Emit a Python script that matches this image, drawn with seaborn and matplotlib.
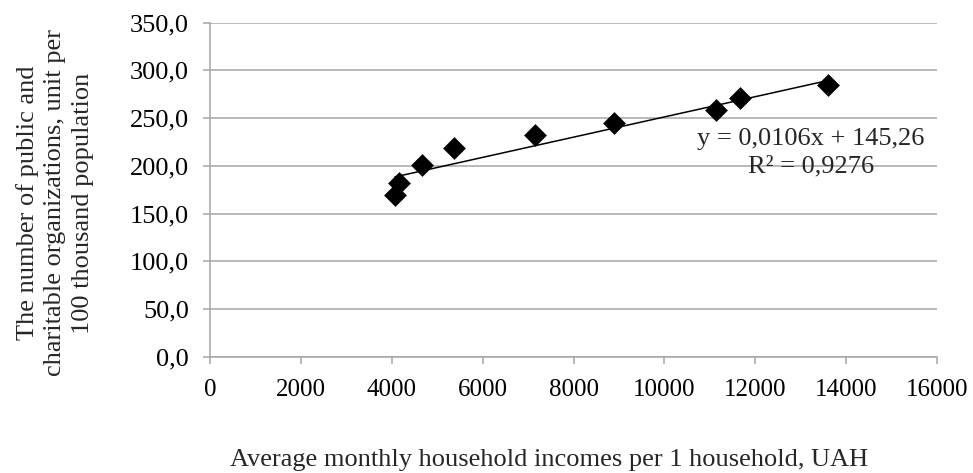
import matplotlib
matplotlib.use("Agg")
import matplotlib.pyplot as plt
from matplotlib.ticker import FuncFormatter, MultipleLocator
import numpy as np
import pandas as pd
import seaborn as sns

# Household income vs. number of public and charitable organizations
income = [4070, 4150, 4670, 5360, 7145, 8890, 11135, 11665, 13600]
organizations = [169.5, 181.5, 201.0, 218.5, 232.5, 244.5, 258.5, 271.0, 284.5]

# Linear trend reported on the chart
slope = 0.0106
intercept = 145.26
r_squared = 0.9276

x_label = "Average monthly household incomes per 1 household, UAH"
y_label = "The number of public and\ncharitable organizations, unit per\n100 thousand population"

sns.set_theme(style="white")
plt.rcParams["font.family"] = ["Liberation Serif", "DejaVu Serif"]

df = pd.DataFrame({"income": income, "orgs": organizations})

fig = plt.figure(figsize=(9.73, 4.73), dpi=100)
ax = fig.add_axes([210 / 973, 1 - 356.7 / 473, 727 / 973, 334 / 473])

grid_color = "#a6a6a6"
ax.set_xlim(0, 16000)
ax.set_ylim(0, 350)
ax.xaxis.set_major_locator(MultipleLocator(2000))
ax.yaxis.set_major_locator(MultipleLocator(50))
ax.yaxis.set_major_formatter(FuncFormatter(lambda v, p: f"{v:.1f}".replace(".", ",")))
ax.xaxis.set_major_formatter(FuncFormatter(lambda v, p: f"{int(v)}"))
ax.grid(axis="y", color=grid_color, linewidth=1.1)
ax.set_axisbelow(True)

for side in ("top", "right"):
    ax.spines[side].set_visible(False)
for side in ("left", "bottom"):
    ax.spines[side].set_color(grid_color)
    ax.spines[side].set_linewidth(1.1)
ax.tick_params(axis="both", which="major", direction="out", length=5, width=1.1,
               color=grid_color, labelcolor="black", bottom=True, left=True)
ax.tick_params(axis="y", labelsize=19, pad=10)
ax.tick_params(axis="x", labelsize=18, pad=11)

# Trend line across the observed income range
trend_x = np.array([min(income), max(income)])
trend_df = pd.DataFrame({"income": trend_x, "orgs": slope * trend_x + intercept})
sns.lineplot(data=trend_df, x="income", y="orgs", ax=ax, color="black", linewidth=1.1)

sns.scatterplot(data=df, x="income", y="orgs", ax=ax, marker="D", s=135,
                color="black", edgecolor="black", linewidth=0, zorder=3)

eq_text = (f"y = {slope:.4f}x + {intercept:.2f}".replace(".", ",")
           + "\n" + f"R² = {r_squared:.4f}".replace(".", ","))
ax.text(13230, 213.5, eq_text, fontsize=19, ha="center", va="center",
        linespacing=1.3, multialignment="center")

ax.set_xlabel("")
ax.set_ylabel("")
fig.text(549 / 973, 1 - 460 / 473, x_label, fontsize=19, ha="center", va="center")
fig.text(55 / 973, 1 - 203 / 473, y_label, fontsize=19, ha="center", va="center",
         rotation=90, linespacing=1.3, multialignment="center")

fig.savefig("out.png", dpi=100)
